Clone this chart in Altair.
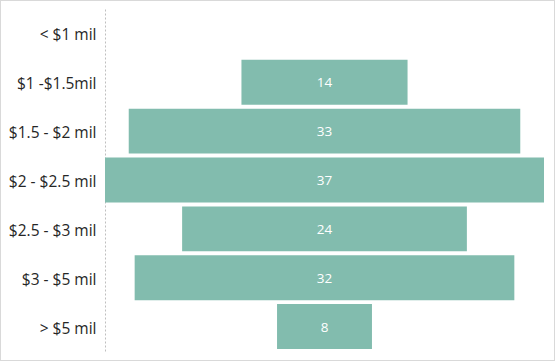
import altair as alt
import pandas as pd

categories = ["< $1 mil", "$1 -$1.5mil", "$1.5 - $2 mil", "$2 - $2.5 mil",
              "$2.5 - $3 mil", "$3 - $5 mil", "> $5 mil"]
counts = [0, 14, 33, 37, 24, 32, 8]

df = pd.DataFrame({"band": categories, "count": counts})

FONT = "Open Sans"

base = alt.Chart(df).transform_calculate(
    left="-datum.count/2", right="datum.count/2"
)

y_enc = alt.Y(
    "band:N", sort=categories, title=None,
    scale=alt.Scale(paddingInner=0.08, paddingOuter=0.04),
    axis=alt.Axis(
        ticks=False, labelPadding=9, labelFontSize=15.5, labelFont=FONT,
        labelColor="#262626", domainColor="#bfbfbf", domainDash=[2, 2],
        domainWidth=1, grid=False, labelOffset=2,
    ),
)

bars = base.mark_bar(color="#82BCAE").encode(
    x=alt.X("left:Q", scale=alt.Scale(domain=[-18.5, 18.5], nice=False, zero=False), axis=None),
    x2="right:Q",
    y=y_enc,
)

labels = base.transform_filter("datum.count > 0").mark_text(
    color="white", fontSize=13.5, font=FONT, dy=1
).encode(
    x=alt.datum(0),
    y=alt.Y("band:N", sort=categories),
    text="count:Q",
)

frame = alt.Chart(df).mark_rect(
    fill=None, stroke="#d9d9d9", strokeWidth=1, clip=False
).encode(
    x=alt.value(-104.5), x2=alt.value(449.5), y=alt.value(-8.5), y2=alt.value(351.5)
)

chart = alt.layer(bars, labels, frame).properties(
    width=439, height=342,
    padding={"left": 105, "top": 9, "right": 11, "bottom": 10},
    autosize=alt.AutoSizeParams(type="none"),
    background="white",
).configure_view(stroke=None)

chart.save("out.html", embed_options={"renderer": "svg", "actions": False})
